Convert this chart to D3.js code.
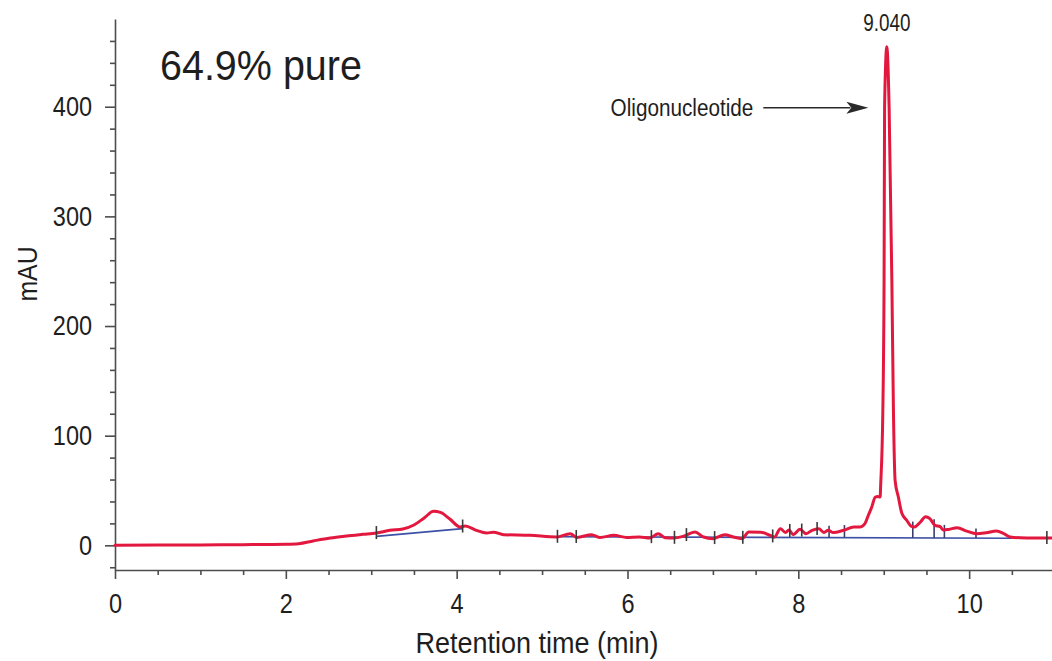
<!DOCTYPE html>
<html>
<head>
<meta charset="utf-8">
<script src="https://cdn.jsdelivr.net/npm/d3@7"></script>
<style>
  html, body { margin: 0; padding: 0; background: #ffffff; }
  svg { display: block; }
  text { font-family: "Liberation Sans", Arial, "DejaVu Sans", sans-serif; }
</style>
</head>
<body>
<svg id="chart" width="1052" height="661"></svg>
<script>
// ---- Data ----
const traceTimes = [0, 0.5, 1.0, 1.5, 2.0, 2.15, 2.32, 2.52, 2.71, 2.9, 3.06, 3.22, 3.37, 3.5, 3.62, 3.73, 3.81, 3.92, 4.04, 4.1,
  4.23, 4.35, 4.43, 4.55, 4.86, 5.17, 5.33, 5.41, 5.58, 5.68, 5.84, 5.99, 6.14, 6.26, 6.36, 6.44, 6.54, 6.65, 6.79, 6.89,
  7.0, 7.14, 7.24, 7.34, 7.42, 7.56, 7.67, 7.72, 7.79, 7.85, 7.89, 7.94, 8.02, 8.09, 8.16, 8.24, 8.30, 8.35, 8.41, 8.53,
  8.65, 8.72, 8.78, 8.82, 8.86, 8.90, 8.93, 8.958, 8.964, 8.989, 9.004, 9.010, 9.036, 9.063, 9.095, 9.114, 9.133, 9.172, 9.212, 9.27,
  9.32, 9.36, 9.43, 9.49, 9.54, 9.60, 9.66, 9.70, 9.76, 9.86, 9.97, 10.09, 10.2, 10.32, 10.40, 10.48, 10.6, 10.75, 10.97];
const traceValues = [0, 0.2, 0.4, 0.6, 1.0, 1.5, 4, 6.7, 8.5, 10, 11.2, 13.7, 14.9, 18.5, 25, 31, 30, 24, 16.7, 17.6,
  13.7, 11.2, 12, 9.7, 9.1, 7.6, 10.6, 7.2, 9.7, 7.2, 9.1, 7.2, 7.6, 6.7, 10.6, 7, 6.7, 8.2, 12.2, 7.6,
  6.1, 9.7, 7.6, 6.1, 12.2, 12, 9.1, 7.5, 15.2, 11.6, 14, 9.7, 14.6, 10.6, 13.7, 15.2, 11.6, 13.7, 11.6, 13.7,
  16.7, 16.7, 19.8, 27.4, 35, 43.8, 44.5, 44, 54.7, 120.4, 241.8, 399.6, 454.7, 399.6, 241.8, 120.4, 59.3, 43.8, 29.2, 22.8,
  17.5, 16.7, 21.3, 26, 24.3, 18.2, 17, 14, 14.5, 16.1, 13, 10.6, 11.5, 13, 11, 7.6, 6.9, 6.7, 6.7];

// integration baselines: start/end time and value
const baselineStartTimes = [3.06, 5.18];
const baselineStartValues = [8.2, 7.8];
const baselineEndTimes = [4.07, 10.5];
const baselineEndValues = [15.2, 6.5];

// peak start/stop tick marks (on the trace) and drop lines (trace to baseline)
const markTimes = [3.06, 4.07, 5.18, 5.40, 6.28, 6.55, 6.69, 7.02, 7.35, 7.70, 7.90, 8.04, 8.22, 10.91];
const dropTimes = [8.36, 8.54, 9.34, 9.59, 9.71, 10.08];

// axis ticks
const xMajorTicks = [0, 2, 4, 6, 8, 10];
const xMinorTicks = [0.5, 1, 1.5, 2.5, 3, 3.5, 4.5, 5, 5.5, 6.5, 7, 7.5, 8.5, 9, 9.5, 10.5];
const yMajorTicks = [0, 100, 200, 300, 400];
const yMinorTicks = [-20, 20, 40, 60, 80, 120, 140, 160, 180, 220, 240, 260, 280, 320, 340, 360, 380, 420, 440, 460];

// annotations
const purityText = "64.9% pure";
const peakLabel = "9.040";
const peakTime = 9.036;
const peakValue = 454.7;
const arrowText = "Oligonucleotide";
const arrowTailTime = 7.59;
const arrowTipTime = 8.82;
const arrowValue = 399;

// ---- Drawing ----
const svg = d3.select("#chart");
const W = 1052, H = 661;
const margin = { left: 115, right: 0, top: 19, bottom: 91 };

const x = d3.scaleLinear().domain([0, 10.97]).range([margin.left, W - margin.right]);
const y = d3.scaleLinear().domain([-22.5, 480]).range([H - margin.bottom, margin.top]);

const axisColor = "#4d4d4d";
const textColor = "#1e1e1e";

// condensed look: squeeze the natural width of a text by a factor
function condense(sel, factor) {
  sel.each(function () {
    const w = this.getComputedTextLength();
    if (w > 0) {
      d3.select(this).attr("textLength", (w * factor).toFixed(1)).attr("lengthAdjust", "spacingAndGlyphs");
    }
  });
}

// X axis
const gx = svg.append("g").attr("transform", `translate(0,${H - margin.bottom})`);
gx.call(d3.axisBottom(x).tickValues(xMajorTicks).tickFormat(d3.format("d")).tickSize(9).tickPadding(14).tickSizeOuter(0));
gx.append("g").call(d3.axisBottom(x).tickValues(xMinorTicks).tickFormat("").tickSize(5)).select(".domain").remove();
gx.selectAll(".domain").attr("stroke", axisColor).attr("stroke-width", 1.6);
gx.selectAll(".tick line").attr("stroke", axisColor).attr("stroke-width", 1.6);
gx.selectAll(".tick text").attr("fill", textColor).attr("font-family", null)
  .style("font-family", '"Liberation Sans", Arial, sans-serif').style("font-size", "28px");
condense(gx.selectAll(".tick text"), 0.84);

// Y axis
const gy = svg.append("g").attr("transform", `translate(${margin.left},0)`);
gy.call(d3.axisLeft(y).tickValues(yMajorTicks).tickFormat(d3.format("d")).tickSize(10).tickPadding(13).tickSizeOuter(0));
gy.append("g").call(d3.axisLeft(y).tickValues(yMinorTicks).tickFormat("").tickSize(5)).select(".domain").remove();
gy.selectAll(".domain").attr("stroke", axisColor).attr("stroke-width", 1.6);
gy.selectAll(".tick line").attr("stroke", axisColor).attr("stroke-width", 1.6);
gy.selectAll(".tick text").attr("fill", textColor)
  .style("font-family", '"Liberation Sans", Arial, sans-serif').style("font-size", "28px");
condense(gy.selectAll(".tick text"), 0.84);

// Axis titles
const xt = svg.append("text")
  .attr("x", 537).attr("y", 653)
  .attr("text-anchor", "middle").attr("fill", textColor).style("font-size", "30px")
  .text("Retention time (min)");
condense(xt, 0.9);
const yt = svg.append("text")
  .attr("transform", "translate(28,274) rotate(-90)")
  .attr("text-anchor", "middle").attr("dominant-baseline", "central")
  .attr("fill", textColor).style("font-size", "27px")
  .text("mAU");
condense(yt, 0.92);

// Trace data
const trace = traceTimes.map((t, i) => ({ t, v: traceValues[i] }));
const interp = t => {
  const i = d3.bisector(d => d.t).right(trace, t);
  if (i <= 0) return trace[0].v;
  if (i >= trace.length) return trace[trace.length - 1].v;
  const a = trace[i - 1], b = trace[i];
  return a.v + (b.v - a.v) * (t - a.t) / (b.t - a.t);
};
const baseAt = t => {
  for (let k = 0; k < baselineStartTimes.length; k++) {
    if (t >= baselineStartTimes[k] && t <= baselineEndTimes[k]) {
      return baselineStartValues[k] + (baselineEndValues[k] - baselineStartValues[k]) *
        (t - baselineStartTimes[k]) / (baselineEndTimes[k] - baselineStartTimes[k]);
    }
  }
  return 6.6;
};

// Baselines (blue)
const baseColor = "#3d50a5";
svg.append("g").selectAll("line").data(baselineStartTimes).join("line")
  .attr("x1", (d) => x(d))
  .attr("y1", (d, i) => y(baselineStartValues[i]))
  .attr("x2", (d, i) => x(baselineEndTimes[i]))
  .attr("y2", (d, i) => y(baselineEndValues[i]))
  .attr("stroke", baseColor).attr("stroke-width", 1.6);

// Drop lines
svg.append("g").selectAll("line").data(dropTimes).join("line")
  .attr("x1", d => x(d)).attr("x2", d => x(d))
  .attr("y1", d => y(baseAt(d)))
  .attr("y2", d => y(interp(d)) - 5)
  .attr("stroke", "#3a3f6a").attr("stroke-width", 1.6);

// Trace (red)
const line = d3.line().x(d => x(d.t)).y(d => y(d.v)).curve(d3.curveMonotoneX);
svg.append("path").datum(trace)
  .attr("d", line)
  .attr("fill", "none")
  .attr("stroke", "#e2183f")
  .attr("stroke-width", 3)
  .attr("stroke-linejoin", "round")
  .attr("stroke-linecap", "round");

// Start/stop tick marks
svg.append("g").selectAll("line").data(markTimes).join("line")
  .attr("x1", d => x(d)).attr("x2", d => x(d))
  .attr("y1", d => y(interp(d)) - 7)
  .attr("y2", d => y(interp(d)) + 6)
  .attr("stroke", "#3a3a3a").attr("stroke-width", 1.6);

// Purity text
const pt = svg.append("text")
  .attr("x", 160).attr("y", 80)
  .attr("fill", textColor).style("font-size", "42px")
  .text(purityText);
condense(pt, 0.94);

// Peak label
const pl = svg.append("text")
  .attr("x", x(peakTime)).attr("y", y(peakValue) - 16)
  .attr("text-anchor", "middle").attr("fill", textColor).style("font-size", "23px")
  .text(peakLabel);
condense(pl, 0.82);

// Arrow annotation
const ay = y(arrowValue);
const at = svg.append("text")
  .attr("x", x(arrowTailTime) - 10).attr("y", ay)
  .attr("text-anchor", "end").attr("dominant-baseline", "central")
  .attr("fill", textColor).style("font-size", "23px")
  .text(arrowText);
condense(at, 0.9);
svg.append("line")
  .attr("x1", x(arrowTailTime)).attr("x2", x(arrowTipTime) - 18)
  .attr("y1", ay).attr("y2", ay)
  .attr("stroke", "#2a2a2a").attr("stroke-width", 1.6);
const tip = x(arrowTipTime);
svg.append("path")
  .attr("d", `M${tip},${ay} L${tip - 22},${ay - 6} L${tip - 17},${ay} L${tip - 22},${ay + 6} Z`)
  .attr("fill", "#2a2a2a");
</script>
</body>
</html>
